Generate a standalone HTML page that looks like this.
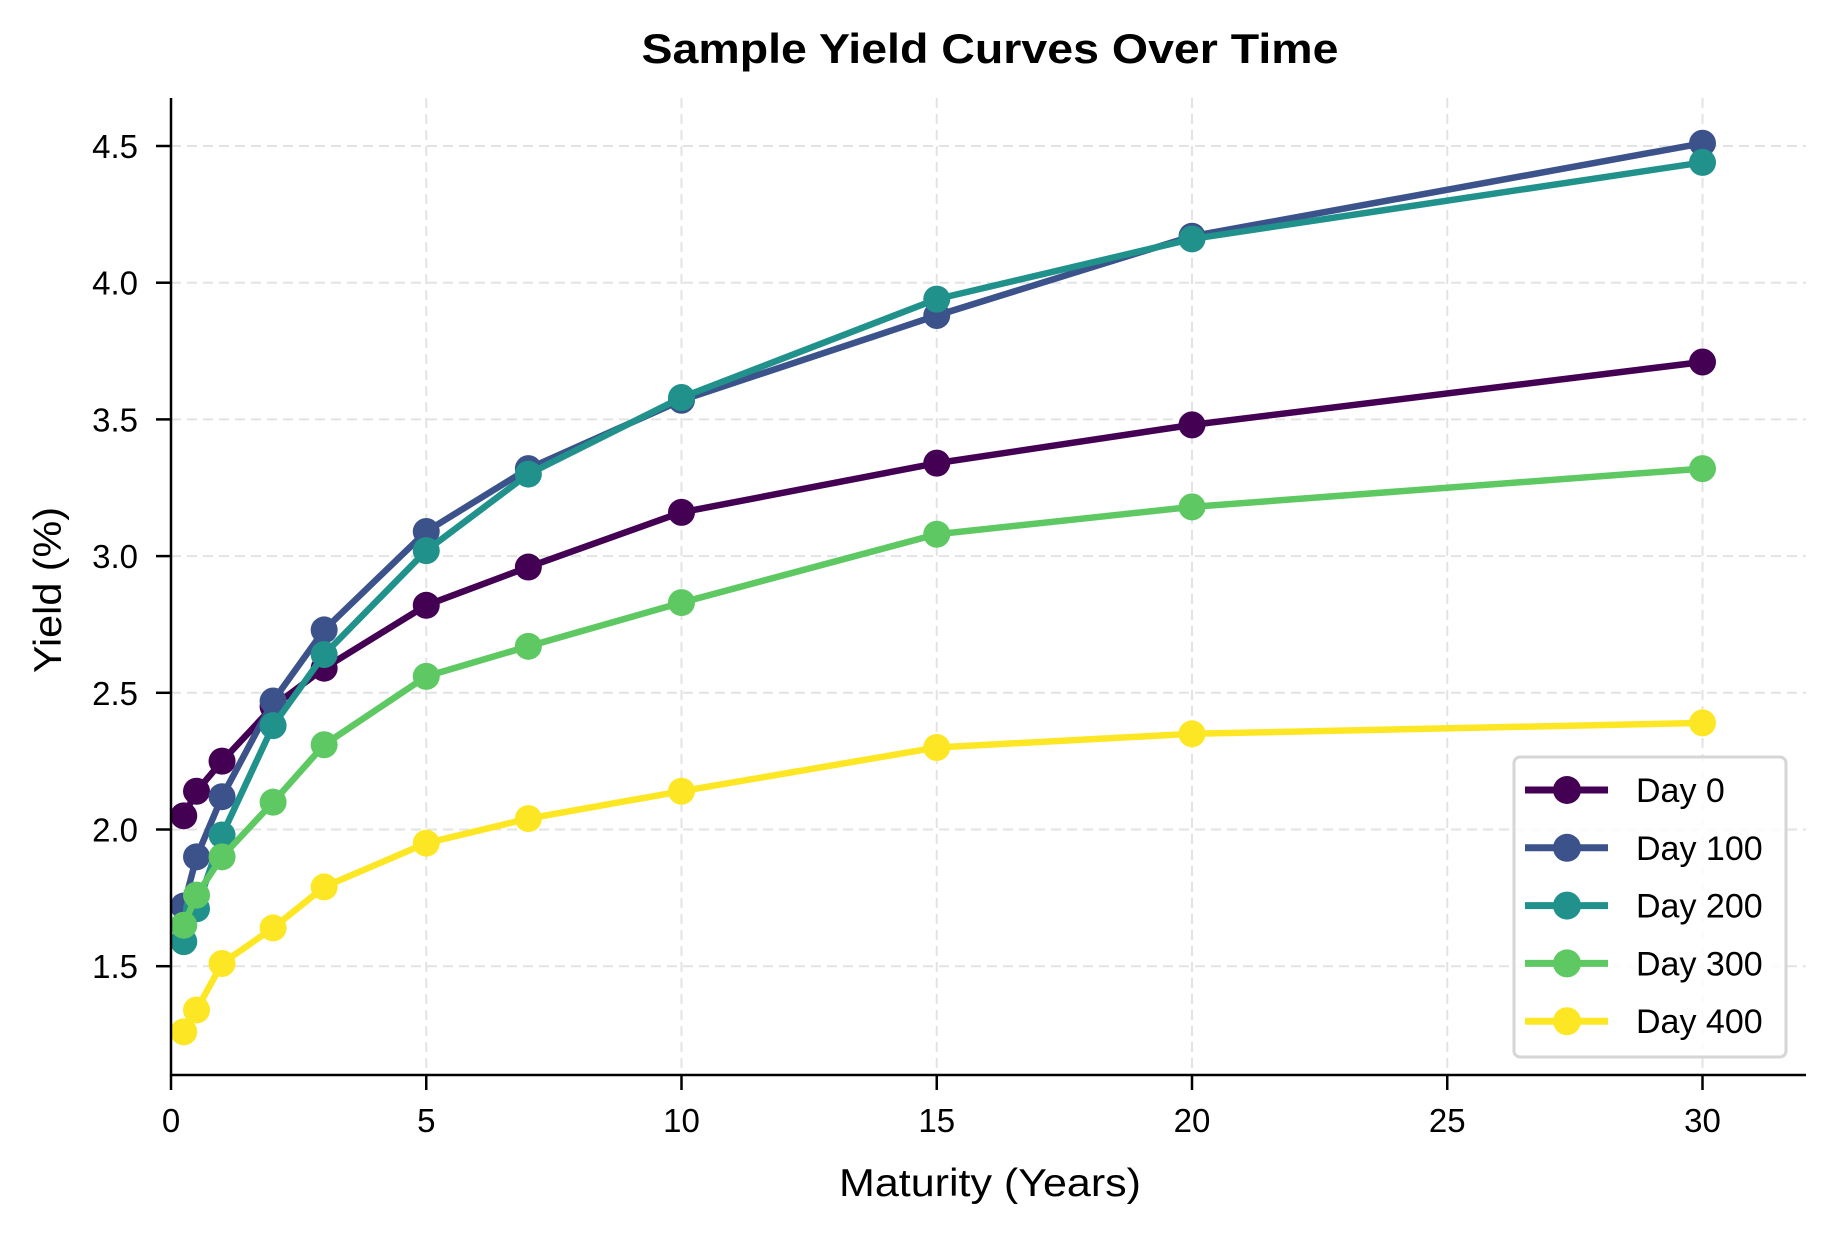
<!DOCTYPE html>
<html><head><meta charset="utf-8"><style>
html,body{margin:0;padding:0;background:#fff}
svg{display:block}
text{font-family:"Liberation Sans",sans-serif;fill:#000}
</style></head><body>
<svg id="s" width="1834" height="1234" xmlns="http://www.w3.org/2000/svg">
<rect width="1834" height="1234" fill="#fff"/>
<g id="grid"></g><g id="series"></g><g id="axes"></g>
<text x="990" y="63" font-size="42" font-weight="bold" text-anchor="middle" textLength="697" lengthAdjust="spacingAndGlyphs">Sample Yield Curves Over Time</text>
<text x="990" y="1196" font-size="39" text-anchor="middle" textLength="302" lengthAdjust="spacingAndGlyphs">Maturity (Years)</text>
<text transform="translate(61,590) rotate(-90)" font-size="39" text-anchor="middle" textLength="166" lengthAdjust="spacingAndGlyphs">Yield (%)</text>
<g id="legend"></g>
</svg>
<script>
const NS="http://www.w3.org/2000/svg";
function el(p,t,a,txt){const e=document.createElementNS(NS,t);for(const k in a)e.setAttribute(k,a[k]);if(txt!==undefined)e.textContent=txt;document.getElementById(p).appendChild(e);return e;}
const X=v=>171+v*51.05, Y=v=>146+(4.5-v)*273.4;
const L=171,R=1806,T=98,B=1075;
for(const v of [0,5,10,15,20,25,30]){
 el('grid','line',{x1:X(v),x2:X(v),y1:T,y2:B,stroke:'#e3e3e3','stroke-width':2,'stroke-dasharray':'10,6'});
 el('axes','line',{x1:X(v),x2:X(v),y1:B,y2:B+15,stroke:'#000','stroke-width':2.5});
 el('axes','text',{x:X(v),y:B+57,'font-size':33,'text-anchor':'middle'},String(v));
}
for(const v of [1.5,2.0,2.5,3.0,3.5,4.0,4.5]){
 el('grid','line',{x1:L,x2:R,y1:Y(v),y2:Y(v),stroke:'#e3e3e3','stroke-width':2,'stroke-dasharray':'10,6'});
 el('axes','line',{x1:L-15,x2:L,y1:Y(v),y2:Y(v),stroke:'#000','stroke-width':2.5});
 el('axes','text',{x:L-33,y:Y(v)+12,'font-size':33,'text-anchor':'end'},v.toFixed(1));
}
el('axes','line',{x1:L,x2:L,y1:T,y2:B+1,stroke:'#000','stroke-width':2.5});
el('axes','line',{x1:L-1,x2:R,y1:B,y2:B,stroke:'#000','stroke-width':2.5});
const m=[0.25,0.5,1,2,3,5,7,10,15,20,30];
const S=[
['Day 0','#440154',[2.05,2.14,2.25,2.45,2.59,2.82,2.96,3.16,3.34,3.48,3.71]],
['Day 100','#3b528b',[1.72,1.90,2.12,2.47,2.73,3.09,3.32,3.57,3.88,4.17,4.51]],
['Day 200','#21918c',[1.59,1.71,1.98,2.38,2.64,3.02,3.30,3.58,3.94,4.16,4.44]],
['Day 300','#5ec962',[1.65,1.76,1.90,2.10,2.31,2.56,2.67,2.83,3.08,3.18,3.32]],
['Day 400','#fde725',[1.26,1.34,1.51,1.64,1.79,1.95,2.04,2.14,2.30,2.35,2.39]]];
S.forEach(([n,c,d])=>{
 el('series','polyline',{points:d.map((v,i)=>X(m[i])+','+Y(v)).join(' '),fill:'none',stroke:c,'stroke-width':6.5,'stroke-linejoin':'round'});
 d.forEach((v,i)=>el('series','circle',{cx:X(m[i]),cy:Y(v),r:13.5,fill:c}));
});
el('legend','rect',{x:1514,y:757,width:272,height:300,rx:6,fill:'#fff','fill-opacity':0.85,stroke:'#d6d6d6','stroke-width':3});
S.forEach(([n,c],i)=>{const y=790+i*57.8;
 el('legend','line',{x1:1525,x2:1608,y1:y,y2:y,stroke:c,'stroke-width':7});
 el('legend','circle',{cx:1567,cy:y,r:14,fill:c});
 el('legend','text',{x:1636,y:y+12,'font-size':34},n);
});
</script>
</body></html>
